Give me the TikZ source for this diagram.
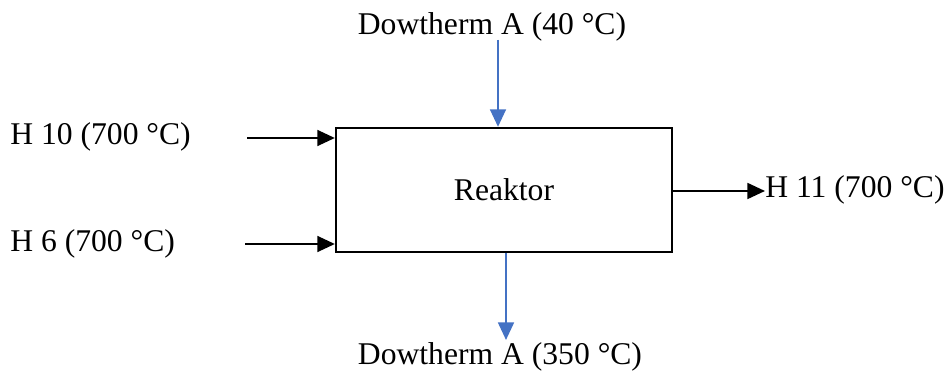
\documentclass[tikz,border=0pt]{standalone}
\usepackage{fontspec}
\setmainfont{Liberation Serif}
\usetikzlibrary{arrows.meta}
\definecolor{strom}{HTML}{4472C4}
\tikzset{%
  reaktor/.style = {shape=rectangle, draw, line width=1.3pt,%
                    minimum width=336*0.02cm, minimum height=124*0.02cm},%
  stoff/.style   = {inner sep=0pt, font=\fontsize{18}{21}\selectfont},%
  pfeil/.style   = {line width=1.3pt, -{Triangle[length=10pt,width=9pt]}},%
  kuehl/.style   = {pfeil, draw=strom, fill=strom}%
}
\begin{document}
\begin{tikzpicture}[x=0.02cm, y=-0.02cm]
  \useasboundingbox (0,0) rectangle (951,371);
  % reactor block
  \node[reaktor, stoff] (R) at (504,190) {Reaktor};
  % stream labels
  \node[stoff, anchor=base] (dtin) at (492,35) {Dowtherm A (40 °C)};
  \node[stoff, anchor=base] (dtout) at (500,365) {Dowtherm A (350 °C)};
  \node[stoff, anchor=base west] (h10) at (10,145) {H 10 (700 °C)};
  \node[stoff, anchor=base west] (h6) at (10,252) {H 6 (700 °C)};
  \node[stoff, anchor=base west] (h11) at (765,198) {H 11 (700 °C)};
  % free ends
  \coordinate (h10a) at (247,138);
  \coordinate (h6a) at (245,244);
  \coordinate (h11a) at (672,191);
  \coordinate (dtina) at (498,40);
  \coordinate (dtouta) at (506,340);
  % streams
  \draw[pfeil] (h10a) -- (h10a -| R.west);
  \draw[pfeil] (h6a) -- (h6a -| R.west);
  \draw[pfeil] (h11a) -- (h11a -| h11.west);
  \draw[kuehl] (dtina) -- (dtina |- R.north);
  \draw[kuehl] (dtouta |- R.south) -- (dtouta);
\end{tikzpicture}
\end{document}
